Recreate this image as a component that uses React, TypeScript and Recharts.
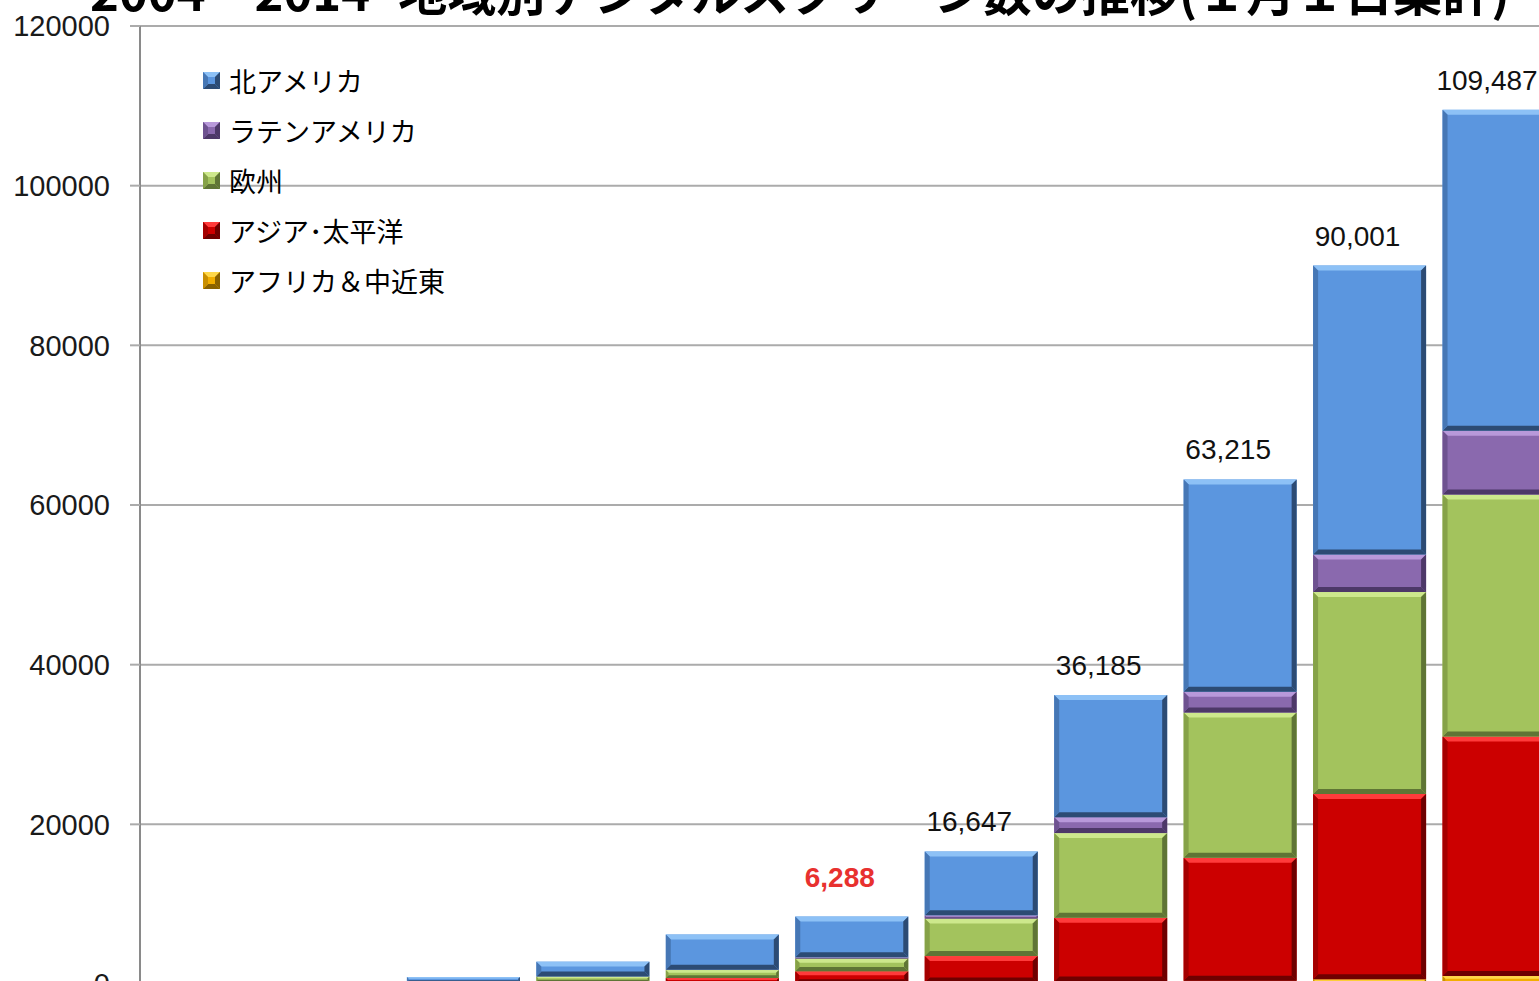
import React from 'react';
import {BarChart, Bar, XAxis, YAxis, CartesianGrid, LabelList} from 'recharts';

// Jan 1 counts (screens)
const years = ['2004', '2005', '2006', '2007', '2008', '2009', '2010', '2011', '2012', '2013', '2014'];
const africaME = [0, 0, 10, 30, 50, 100, 200, 300, 400, 600, 1000];
const asiaPacific = [20, 50, 100, 300, 700, 1500, 3300, 8000, 15400, 23200, 30000];
const europe = [30, 80, 150, 600, 1000, 1600, 4700, 10600, 18200, 25300, 30300];
const latinAmerica = [0, 5, 10, 20, 50, 150, 400, 2000, 2600, 4700, 8000];
const northAmerica = [50, 120, 600, 1850, 4400, 5100, 8000, 15300, 26600, 36200, 40200];
const totalLabels = ['', '', '', '', '', '6,288', '16,647', '36,185', '63,215', '90,001', '109,487'];
const highlightLabel = '6,288';
const yTicks = [0, 20000, 40000, 60000, 80000, 100000, 120000];

const rows = years.map((year, i) => ({
    year,
    africa: africaME[i],
    asia: asiaPacific[i],
    europe: europe[i],
    latam: latinAmerica[i],
    na: northAmerica[i],
    label: totalLabels[i],
}));

type Tone = { base: string; light: string; dark: string; side: string };

const tones: Record<string, Tone> = {
    na: {base: '#5B96DF', light: '#8DC1F6', dark: '#2C4B74', side: '#4677B5'},
    latam: {base: '#8A69AE', light: '#B899DA', dark: '#4D3868', side: '#6E5290'},
    europe: {base: '#A3C35D', light: '#CDE88C', dark: '#5F7535', side: '#86A248'},
    asia: {base: '#CC0000', light: '#FF3B3B', dark: '#6E0000', side: '#A50000'},
    africa: {base: '#F2AE00', light: '#FFD84A', dark: '#8A6200', side: '#C98F00'},
};

// bottom-up stack order
const series = [
    {key: 'africa', name: 'アフリカ＆中近東'},
    {key: 'asia', name: 'アジア･太平洋'},
    {key: 'europe', name: '欧州'},
    {key: 'latam', name: 'ラテンアメリカ'},
    {key: 'na', name: '北アメリカ'},
];

const Bevel = ({x, y, width, height, tone, edge}: any) => {
    if (!height || height <= 0 || !width) return null;
    const b = Math.min(edge, height / 3, width / 3);
    const w = width, h = height;
    return (
        <g>
            <rect x={x} y={y} width={w} height={h} fill={tone.base}/>
            <polygon points={`${x},${y} ${x + w},${y} ${x + w - b},${y + b} ${x + b},${y + b}`} fill={tone.light}/>
            <polygon points={`${x},${y + h} ${x + w},${y + h} ${x + w - b},${y + h - b} ${x + b},${y + h - b}`} fill={tone.dark}/>
            <polygon points={`${x + w},${y} ${x + w},${y + h} ${x + w - b},${y + h - b} ${x + w - b},${y + b}`} fill={tone.dark}/>
            <polygon points={`${x},${y} ${x},${y + h} ${x + b},${y + h - b} ${x + b},${y + b}`} fill={tone.side}/>
        </g>
    );
};

const renderTotal = (p: any) => {
    const {x, y, width, value} = p;
    if (!value) return null;
    const hot = value === highlightLabel;
    return (
        <text x={Number(x) + Number(width) / 2 - 12} y={Number(y) - (hot ? 30 : 20)} textAnchor="middle"
              fontSize={28} fontFamily="Liberation Sans" fontWeight={hot ? 700 : 400}
              fill={hot ? '#E8312F' : '#111'}>
            {value}
        </text>
    );
};

// legend drawn as an overlay so it takes no room from the plot
const LegendBox = () => (
    <div style={{position: 'absolute', left: 203, top: 55}}>
        {[...series].reverse().map(s => (
            <div key={s.key} style={{display: 'flex', alignItems: 'center', height: 50}}>
                <svg width={17} height={17} style={{marginRight: 9}}>
                    <Bevel x={0} y={0} width={17} height={17} tone={tones[s.key]} edge={5}/>
                </svg>
                <span style={{fontFamily: '"Noto Sans CJK JP"', fontSize: 27, color: '#000', whiteSpace: 'nowrap'}}>
                    {s.name}
                </span>
            </div>
        ))}
    </div>
);

const App = () => {
    return (
        <div style={{position: 'absolute', left: 0, top: 0, width: 1539, height: 981, overflow: 'hidden', background: '#fff'}}>
            <BarChart width={1600} height={1004} data={rows} barSize={113}
                      margin={{top: 26, right: 36, bottom: 20, left: 0}}>
                <CartesianGrid vertical={false} stroke="#ababab" strokeWidth={2}/>
                <XAxis dataKey="year" hide/>
                <YAxis width={140} domain={[0, 120000]} ticks={yTicks} interval={0}
                       tickSize={10} tickMargin={20}
                       axisLine={{stroke: '#8a8a8a', strokeWidth: 2}}
                       tickLine={{stroke: '#ababab', strokeWidth: 2}}
                       tick={{fill: '#1a1a1a', fontSize: 29, fontFamily: 'Liberation Sans'}}/>
                {series.map(s => (
                    <Bar key={s.key} dataKey={s.key} name={s.name} stackId="total" isAnimationActive={false}
                         shape={(p: any) => <Bevel {...p} tone={tones[s.key]} edge={5}/>}>
                        {s.key === 'na' && <LabelList dataKey="label" content={renderTotal}/>}
                    </Bar>
                ))}
            </BarChart>
            <LegendBox/>
            <div style={{
                position: 'absolute', left: 90, top: -35, fontFamily: '"Noto Sans CJK JP"', fontWeight: 700,
                fontSize: 49, lineHeight: '49px', whiteSpace: 'nowrap', color: '#000'
            }}>
                <span>2004 – 2014</span>
                <span style={{marginLeft: 28}}>地域別デジタルスクリーン数の推移(１月１日集計)</span>
            </div>
        </div>
    );
};

export default App;
